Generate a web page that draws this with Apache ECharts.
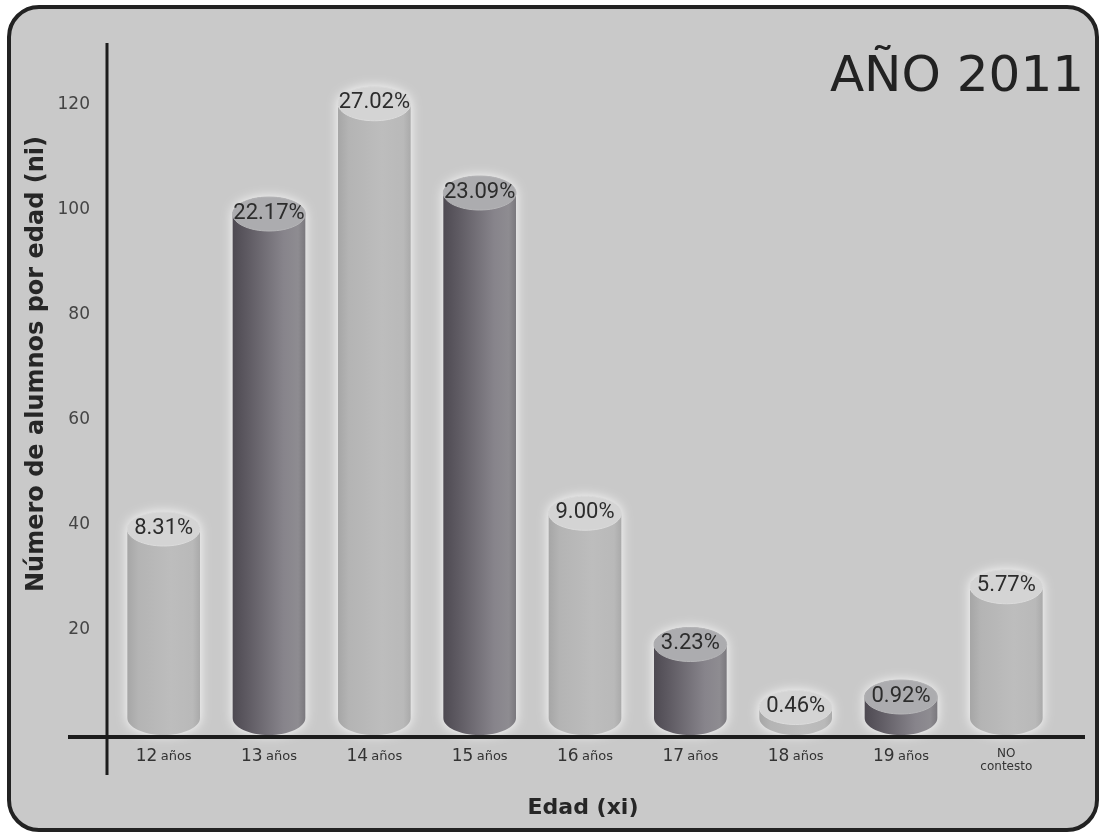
<!DOCTYPE html>
<html>
<head>
<meta charset="utf-8">
<title>AÑO 2011 - Número de alumnos por edad</title>
<script src="https://cdn.jsdelivr.net/npm/echarts@6/dist/echarts.min.js"></script>
<style>
  html, body { margin: 0; padding: 0; background: #ffffff; }
  #chart { width: 1104px; height: 837px; }
</style>
</head>
<body>
<div id="chart"></div>
<script>
// Age groups, students per age group, and the share written on each cylinder
const categories = ['12 años', '13 años', '14 años', '15 años', '16 años', '17 años', '18 años', '19 años', 'NO contesto'];
const alumnos = [36, 96, 117, 100, 39, 14, 2, 4, 25];
const porcentajes = ['8.31%', '22.17%', '27.02%', '23.09%', '9.00%', '3.23%', '0.46%', '0.92%', '5.77%'];
const yTicks = [20, 40, 60, 80, 100, 120];

const titulo = 'AÑO 2011';
const nombreY = 'Número de alumnos por edad (ni)';
const nombreX = 'Edad (xi)';

// Cylinder silhouette: upper half of the top ellipse, straight sides, lower half of the base ellipse
const K = 0.5522848;
const CylBody = echarts.graphic.extendShape({
  shape: { cx: 0, yt: 0, yb: 0, rx: 0, ry: 0 },
  buildPath: function (ctx, s) {
    const { cx, yt, yb, rx, ry } = s;
    ctx.moveTo(cx - rx, yt);
    ctx.bezierCurveTo(cx - rx, yt - K * ry, cx - K * rx, yt - ry, cx, yt - ry);
    ctx.bezierCurveTo(cx + K * rx, yt - ry, cx + rx, yt - K * ry, cx + rx, yt);
    ctx.lineTo(cx + rx, yb);
    ctx.bezierCurveTo(cx + rx, yb + K * ry, cx + K * rx, yb + ry, cx, yb + ry);
    ctx.bezierCurveTo(cx - K * rx, yb + ry, cx - rx, yb + K * ry, cx - rx, yb);
    ctx.closePath();
  }
});
const CylTop = echarts.graphic.extendShape({
  shape: { cx: 0, cy: 0, rx: 0, ry: 0 },
  buildPath: function (ctx, s) {
    const { cx, cy, rx, ry } = s;
    ctx.moveTo(cx - rx, cy);
    ctx.bezierCurveTo(cx - rx, cy - K * ry, cx - K * rx, cy - ry, cx, cy - ry);
    ctx.bezierCurveTo(cx + K * rx, cy - ry, cx + rx, cy - K * ry, cx + rx, cy);
    ctx.bezierCurveTo(cx + rx, cy + K * ry, cx + K * rx, cy + ry, cx, cy + ry);
    ctx.bezierCurveTo(cx - K * rx, cy + ry, cx - rx, cy + K * ry, cx - rx, cy);
    ctx.closePath();
  }
});
echarts.graphic.registerShape('cylBody', CylBody);
echarts.graphic.registerShape('cylTop', CylTop);

const lightBody = [
  { offset: 0, color: '#a6a6a6' }, { offset: 0.15, color: '#b4b4b4' },
  { offset: 0.6, color: '#bdbdbd' }, { offset: 0.9, color: '#b9b9b9' }, { offset: 1, color: '#aaaaaa' }
];
const darkBody = [
  { offset: 0, color: '#4e4a52' }, { offset: 0.2, color: '#5e5a62' },
  { offset: 0.7, color: '#87848b' }, { offset: 0.9, color: '#8e8c91' }, { offset: 1, color: '#7a787d' }
];

function renderCylinder(params, api) {
  const idx = api.value(0);
  const v = api.value(1);
  const top = api.coord([idx, v]);
  const base = api.coord([idx, 0]);
  const bw = api.size([1, 0])[0] * 0.69;
  const rx = bw / 2;
  const ry = 17;
  const cx = base[0];
  const yb = base[1] - ry;
  const yt = top[1] - ry;
  const dark = idx % 2 === 1;
  return {
    type: 'group',
    children: [
      {
        type: 'cylBody',
        shape: { cx: cx, yt: yt, yb: yb, rx: rx, ry: ry },
        style: {
          fill: new echarts.graphic.LinearGradient(0, 0, 1, 0, dark ? darkBody : lightBody),
          shadowBlur: 12,
          shadowColor: 'rgba(255,255,255,0.95)'
        }
      },
      {
        type: 'cylTop',
        shape: { cx: cx, cy: yt, rx: rx, ry: ry },
        style: { fill: dark ? '#acacaf' : '#d4d4d4', stroke: dark ? '#b6b6b8' : '#dcdcdc', lineWidth: 1 }
      },
      {
        type: 'text',
        style: {
          text: porcentajes[idx],
          x: cx,
          y: yt - 1,
          align: 'center',
          verticalAlign: 'middle',
          fontFamily: 'Roboto',
          fontSize: 22,
          fill: '#2c2c2c'
        }
      }
    ]
  };
}

const chart = echarts.init(document.getElementById('chart'), null, { renderer: 'canvas' });

const option = {
  backgroundColor: '#ffffff',
  animation: false,
  grid: { left: 111, right: 45, top: 105, bottom: 102 },
  xAxis: {
    type: 'category',
    data: categories,
    axisLine: { show: false },
    axisTick: { show: false },
    axisLabel: {
      margin: 12,
      interval: 0,
      formatter: function (val) {
        if (val.indexOf('NO') === 0) {
          return '{s|NO}\n{s|contesto}';
        }
        const parts = val.split(' ');
        return '{n|' + parts[0] + '} {u|' + parts[1] + '}';
      },
      rich: {
        n: { fontFamily: 'DejaVu Sans', fontSize: 17, color: '#333333', lineHeight: 20 },
        u: { fontFamily: 'DejaVu Sans', fontSize: 13, color: '#333333', lineHeight: 20 },
        s: { fontFamily: 'DejaVu Sans', fontSize: 12, color: '#333333', lineHeight: 13 }
      }
    }
  },
  yAxis: {
    type: 'value',
    min: 0,
    max: yTicks[yTicks.length - 1],
    interval: yTicks[1] - yTicks[0],
    axisLine: { show: false },
    axisTick: { show: false },
    splitLine: { show: false },
    axisLabel: {
      showMinLabel: false,
      margin: 21,
      fontFamily: 'DejaVu Sans',
      fontSize: 17,
      color: '#444444'
    }
  },
  series: [{
    type: 'custom',
    renderItem: renderCylinder,
    clip: false,
    z: 5,
    data: alumnos.map(function (v, i) { return [i, v]; })
  }]
};

chart.setOption(option);

// Frame, axis lines, title and axis names
const yZero = chart.convertToPixel({ yAxisIndex: 0 }, 0);
const yTop = chart.convertToPixel({ yAxisIndex: 0 }, yTicks[yTicks.length - 1]);
const axisX = 107;

chart.setOption({
  graphic: [
    {
      type: 'rect',
      z: -10,
      shape: { x: 9, y: 7, width: 1088, height: 823, r: 30 },
      style: { fill: '#c9c9c9', stroke: '#222222', lineWidth: 4 }
    },
    {
      type: 'line',
      z: 10,
      shape: { x1: axisX, y1: yTop - 62, x2: axisX, y2: yZero + 40 },
      style: { stroke: '#1c1c1c', lineWidth: 3 }
    },
    {
      type: 'line',
      z: 10,
      shape: { x1: 68, y1: yZero + 2, x2: 1085, y2: yZero + 2 },
      style: { stroke: '#1c1c1c', lineWidth: 4 }
    },
    {
      type: 'text',
      z: 10,
      x: 1084,
      y: 78,
      style: {
        text: titulo,
        align: 'right',
        verticalAlign: 'middle',
        fontFamily: 'DejaVu Sans',
        fontSize: 50,
        fill: '#222222'
      }
    },
    {
      type: 'text',
      z: 10,
      x: 37,
      y: 364,
      rotation: Math.PI / 2,
      style: {
        text: nombreY,
        align: 'center',
        verticalAlign: 'middle',
        fontFamily: 'DejaVu Sans',
        fontWeight: 'bold',
        fontSize: 24,
        fill: '#262626'
      }
    },
    {
      type: 'text',
      z: 10,
      x: 583,
      y: 808,
      style: {
        text: nombreX,
        align: 'center',
        verticalAlign: 'middle',
        fontFamily: 'DejaVu Sans',
        fontWeight: 'bold',
        fontSize: 22,
        fill: '#262626'
      }
    }
  ]
});
</script>
</body>
</html>
